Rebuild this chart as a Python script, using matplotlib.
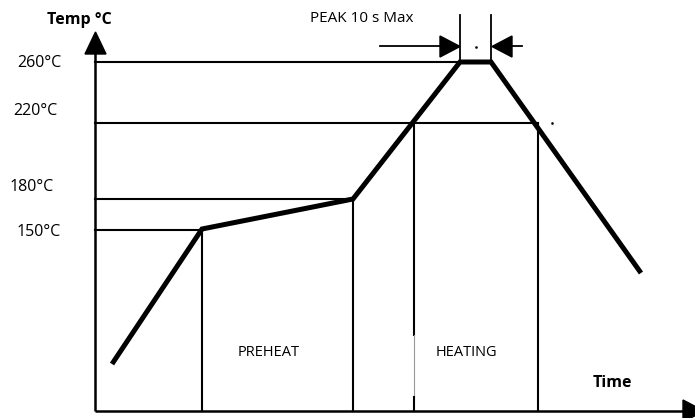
import matplotlib.pyplot as plt
from matplotlib.patches import Polygon

# schematic reflow profile, drawn in a pixel-like frame (x right, y down)
profile_x = [112, 202, 353, 460, 491, 641]
profile_y = [364, 229, 199, 62, 62, 273]

temp_labels = ['260°C', '220°C', '180°C', '150°C']
temp_levels = [62, 123, 199, 230]
level_ends = [460, 538, 353, 202]
label_x = [39, 35, 32, 39]
label_y = [63, 111, 187, 232]

zone_x = [202, 353, 414, 538]
zone_top = [230, 199, 123, 123]
zone_names = ['PREHEAT', 'HEATING']
zone_name_x = [269, 466]

peak_x = [460, 491]

plt.rcParams['font.family'] = ['Open Sans', 'DejaVu Sans']

fig = plt.figure(figsize=(6.95, 4.18), dpi=100)
ax = fig.add_axes([0, 0, 1, 1])
ax.set_xlim(0, 695)
ax.set_ylim(418, 0)
ax.axis('off')

k = 'black'
# axes
ax.plot([95, 690], [411, 411], color=k, lw=1.8, solid_capstyle='butt')
ax.plot([95, 95], [411, 45], color=k, lw=1.8, solid_capstyle='butt')
ax.add_patch(Polygon([[85, 54], [106, 54], [95.5, 32]], closed=True, color=k))
ax.add_patch(Polygon([[683, 400], [683, 422], [704, 411]], closed=True, color=k))

# temperature levels
for lv, xe in zip(temp_levels, level_ends):
    ax.plot([95, xe], [lv, lv], color=k, lw=1.5)
for lab, lx, ly in zip(temp_labels, label_x, label_y):
    ax.text(lx, ly, lab, ha='center', va='center', fontsize=11.5)

# zone boundaries
for zx, zt in zip(zone_x, zone_top):
    if zx == 414:
        ax.plot([zx, zx], [zt, 335], color=k, lw=1.5)
        ax.plot([zx, zx], [335, 397], color='#999999', lw=0.8)
        ax.plot([zx, zx], [397, 411], color=k, lw=1.5)
    else:
        ax.plot([zx, zx], [zt, 411], color=k, lw=1.5)
for nm, nx in zip(zone_names, zone_name_x):
    ax.text(nx, 353, nm, ha='center', va='center', fontsize=10.5)

# peak window
for px in peak_x:
    ax.plot([px, px], [15, 62], color=k, lw=1.3)
ax.plot([380, 442], [46, 46], color=k, lw=1.3)
ax.add_patch(Polygon([[440, 36], [440, 57], [460, 46.5]], closed=True, color=k))
ax.plot([510, 522], [46, 46], color=k, lw=1.3)
ax.add_patch(Polygon([[512, 36], [512, 57], [492, 46.5]], closed=True, color=k))
ax.plot([476], [47], marker='s', ms=0.8, color=k)
ax.plot([552], [123], marker='s', ms=0.8, color=k)
ax.text(362, 19, 'PEAK 10 s Max', ha='center', va='center', fontsize=11)

# profile curve
ax.plot(profile_x, profile_y, color=k, lw=3.6, solid_joinstyle='miter', solid_capstyle='butt')

ax.text(79, 20, 'Temp °C', ha='center', va='center', fontsize=11.5, fontweight='bold')
ax.text(612, 383, 'Time', ha='center', va='center', fontsize=11.5, fontweight='bold')

fig.savefig('out.png', dpi=100)
